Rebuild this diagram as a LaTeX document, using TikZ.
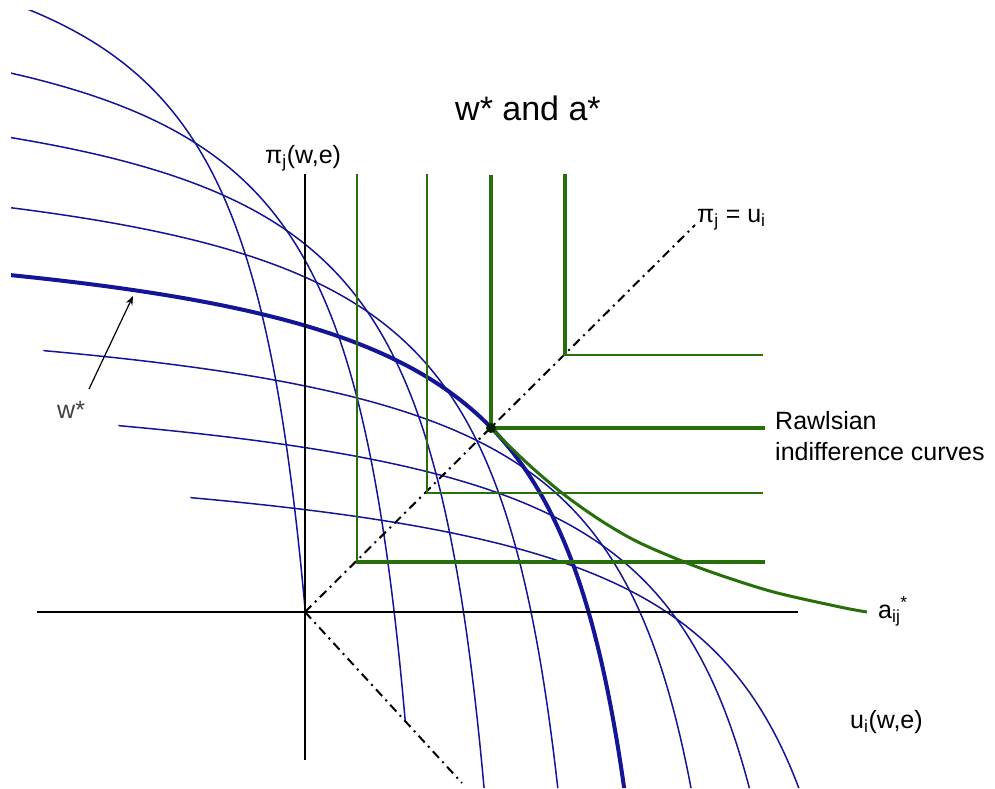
\documentclass[tikz,border=0pt]{standalone}
\usepackage{fontspec}
\setmainfont{Liberation Sans}
\usetikzlibrary{arrows.meta}
\definecolor{fblue}{RGB}{20,20,150}
\definecolor{fgreen}{RGB}{40,110,10}
% frontier: arc over the anti-diagonal, s = 262 - 0.985(sqrt(d^2+300^2)-300), shifted by (#2,#2)
\newcommand\drawfrontier[2]{\draw[#1] plot[domain=-570:570,samples=160,variable=\d]
  ({305+0.70711*(262-0.985*(100*sqrt((\d/100)*(\d/100)+9)-300)+\d)+#2},
   {612-0.70711*(262-0.985*(100*sqrt((\d/100)*(\d/100)+9)-300)-\d)+#2});}
\begin{document}
\begin{tikzpicture}[x=1pt,y=-1pt,
  thinf/.style={draw=fblue,line width=1.5pt},
  thickf/.style={draw=fblue,line width=4pt},
  axisline/.style={draw=black,line width=2pt},
  ddot/.style={draw=black,line width=2pt,dash pattern=on 9pt off 5pt on 2pt off 5pt},
  gl/.style={draw=fgreen},
  glab/.style={font=\fontsize{25}{30}\selectfont,inner sep=0pt},
]
\useasboundingbox (0,0) rectangle (995,788);
% coordinates
\coordinate (O) at (305,612);
\coordinate (dtop) at (695,225);
\coordinate (dbot) at (462,783);
\coordinate (xl) at (37,612);
\coordinate (xr) at (798,612);
\coordinate (yt) at (305,174);
\coordinate (yb) at (305,760);
% blue frontiers
\begin{scope}
\clip (11,318) -- (305,612) -- (467,788) -- (995,788) -- (995,10) -- (11,10) -- cycle;
\drawfrontier{thinf}{-339}
\drawfrontier{thinf}{-240}
\drawfrontier{thinf}{-160}
\drawfrontier{thinf}{-78}
\drawfrontier{thinf}{78}
\drawfrontier{thinf}{153}
\drawfrontier{thinf}{225}
\drawfrontier{thickf}{-2}
\end{scope}
% axes
\draw[axisline] (xl) -- (xr);
\draw[axisline] (yt) -- (yb);
% dash-dot lines
\draw[ddot] (O) -- (dtop);
\draw[ddot] (O) -- (dbot);
% Rawlsian L-shaped indifference curves
\draw[gl,line width=2.3pt] (357,174) -- (357,563.7);
\draw[gl,line width=3.5pt] (355.9,562) -- (765,562);
\draw[gl,line width=2pt] (427,174) -- (427,494);
\draw[gl,line width=2pt] (426,493) -- (763,493);
\draw[gl,line width=3.5pt] (491,175) -- (491,430.2);
\draw[gl,line width=4.5pt] (489.3,428) -- (765,428);
\draw[gl,line width=3.5pt] (565,174) -- (565,356);
\draw[gl,line width=2pt] (563.3,355) -- (763,355);
% a* locus
\draw[fgreen,line width=3pt] plot[smooth] coordinates {(491,428) (527,463) (562,493) (600,520) (640,543) (700,568) (770,591) (840,607) (867,612)};
\node[circle,fill=black!70!fgreen,inner sep=0pt,minimum size=10pt] (star) at (491,428) {};
% w* arrow
\coordinate (wsa) at (89,389);
\coordinate (wsb) at (133,296);
\draw[line width=1.2pt,-{Stealth[length=9pt,width=7pt]}] (wsa) -- (wsb);
% labels
\node[glab,anchor=base west] (title) at (455,120) {\fontsize{34}{40}\selectfont w* and a*};
\node[glab,anchor=base west] (pilab) at (265,163) {π\textsubscript{j}(w,e)};
\node[glab,anchor=base west] (eqlab) at (697,222) {π\textsubscript{j} = u\textsubscript{i}};
\node[glab,anchor=base west] (rawl1) at (775,429) {Rawlsian};
\node[glab,anchor=base west] (rawl2) at (775,460) {indifference curves};
\node[glab,anchor=base west] (alab) at (878,618) {a\textsubscript{ij}\textsuperscript{*}};
\node[glab,anchor=base west] (ulab) at (850,728) {u\textsubscript{i}(w,e)};
\node[glab,anchor=base west,text=black!75] (wlab) at (57,418) {w*};
\end{tikzpicture}
\end{document}
